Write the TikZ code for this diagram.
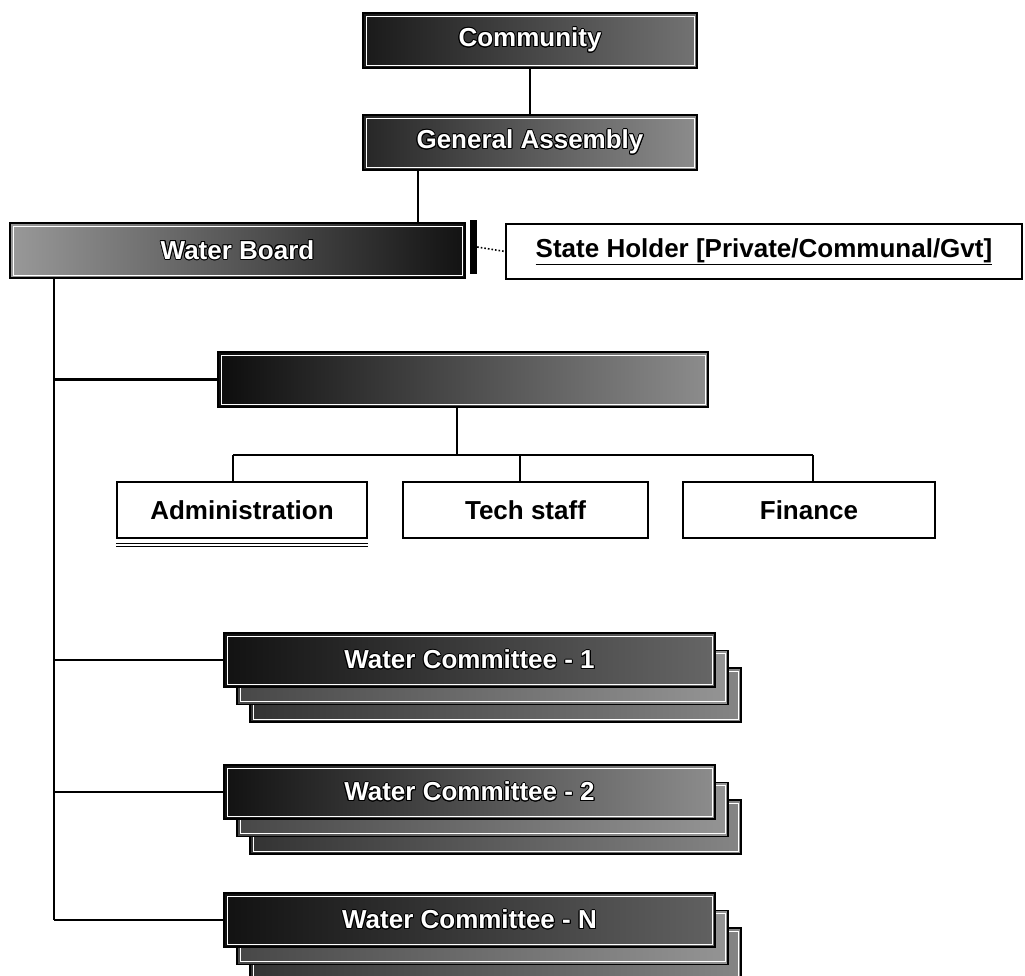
\documentclass[tikz,border=0pt]{standalone}
\usepackage{fontspec}
\setmainfont{Liberation Sans}
\usepackage{contour}
\contourlength{0.9pt}
\begin{document}
\begin{tikzpicture}[x=1pt,y=1pt,
  conn/.style={line width=2.1, black},
  inset/.style={path picture={\draw[white,line width=0.9] ([shift={(3,-3)}]path picture bounding box.north west) rectangle ([shift={(-3,3)}]path picture bounding box.south east);}},
  darkbox/.style={draw=black, line width=2, minimum height=55, inner sep=0, inset,
    font=\bfseries\fontsize{26}{30}\selectfont, text=white},
  backbox/.style={draw=black, line width=1.8, minimum height=54, minimum width=491, inner sep=0, inset,
    left color=black!80, right color=black!48},
  whitebox/.style={draw=black, line width=1.8, fill=white, minimum height=56, inner sep=0,
    font=\bfseries\fontsize{26}{30}\selectfont},
]
\useasboundingbox (0,0) rectangle (1025,-976);

% top chain
\node[darkbox, minimum width=334, left color=black!90, right color=black!55] (comm) at (530,-40.5) {\contour{black}{Community}};
\node[darkbox, minimum width=334, left color=black!85, right color=black!45] (ga) at (530,-142.5) {\contour{black}{General Assembly}};
\node[darkbox, minimum width=455, left color=black!40, right color=black!93] (wb) at (237.5,-250.5) {\contour{black}{Water Board}};
\node[fill=black, minimum width=7, minimum height=54, inner sep=0] (bar) at (473.5,-247) {};
\node[whitebox, minimum width=516, minimum height=55] (sh) at (764,-251.5) {\underline{State Holder [Private/Communal/Gvt]}};

% management box and departments
\node[darkbox, minimum width=490, left color=black!95, middle color=black!90, right color=black!45] (mgmt) at (463,-379.5) {};
\node[whitebox, minimum width=250] (adm) at (242,-510) {Administration};
\node[whitebox, minimum width=245] (tech) at (525.5,-510) {Tech staff};
\node[whitebox, minimum width=252] (fin) at (809,-510) {Finance};
\draw[line width=1.4] ([yshift=-4.5]adm.south west) -- ([yshift=-4.5]adm.south east);
\draw[line width=1.4] ([yshift=-7.5]adm.south west) -- ([yshift=-7.5]adm.south east);

% committees (stacked)
\foreach \n/\y/\t/\rc in {c1/660/1/60, c2/792/2/45, cN/920/N/62} {
  \node[backbox] (\n-3) at (495.5,{-\y-35}) {};
  \node[backbox, left color=black!72, right color=black!42] (\n-2) at (482.5,{-\y-17.5}) {};
  \node[darkbox, minimum width=491, minimum height=54, left color=black!93, right color=black!\rc] (\n) at (469.5,-\y) {\contour{black}{Water Committee - \t}};
}

% connectors
\coordinate (sx) at (54,0);
\coordinate (gx) at (418,0);
\coordinate (mx) at (457,0);
\coordinate (b1) at (233,-455);
\coordinate (b2) at (520,-455);
\coordinate (b3) at (813,-455);

\draw[conn] (comm.south) -- (ga.north);
\draw[conn] (gx |- ga.south) -- (gx |- wb.north);
\draw[line width=1.6, dotted] (bar.east) -- (sh.west);
\draw[conn] (sx |- wb.south) -- (sx |- cN.west);
\draw[conn] (sx |- mgmt.west) -- (mgmt.west);
\draw[conn] (sx |- c1.west) -- (c1.west);
\draw[conn] (sx |- c2.west) -- (c2.west);
\draw[conn] (sx |- cN.west) -- (cN.west);
\draw[conn] (mx |- mgmt.south) -- (mx |- b1);
\draw[conn] (b1) -- (b3);
\draw[conn] (b1) -- (b1 |- adm.north);
\draw[conn] (b2) -- (b2 |- tech.north);
\draw[conn] (b3) -- (b3 |- fin.north);
\end{tikzpicture}
\end{document}
